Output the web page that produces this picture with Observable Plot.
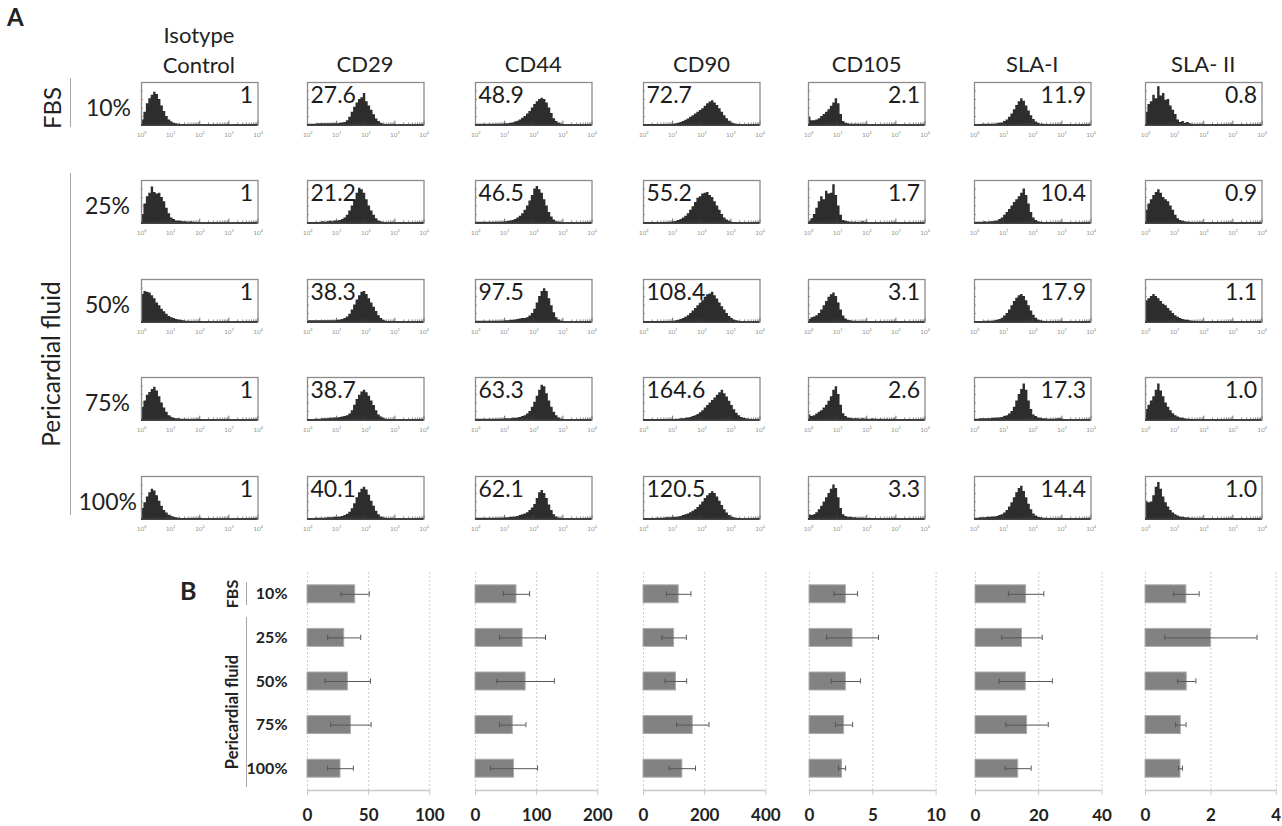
<!DOCTYPE html>
<html><head><meta charset="utf-8">
<script src="https://cdn.jsdelivr.net/npm/d3@7"></script>
<script src="https://cdn.jsdelivr.net/npm/@observablehq/plot@0.6"></script>
<style>
body{margin:0;background:#fff;}
#fig{position:relative;width:1282px;height:826px;overflow:hidden;font-family:Lato,"Open Sans",sans-serif;color:#222;background:#fff;}
.abs{position:absolute;white-space:pre;}
.vline{position:absolute;width:0;border-left:1.5px solid #a8a8a8;}
#fig svg{max-width:none !important;}
</style></head><body><div id="fig"></div>
<script>
// ---------------- DATA ----------------
const markers = ["Isotype\nControl","CD29","CD44","CD90","CD105","SLA-I","SLA- II"];
const conditions = ["10%","25%","50%","75%","100%"];
const decadeTicks = ["10\u2070","10\u00b9","10\u00b2","10\u00b3","10\u2074"];

// MFI numbers printed in each histogram (rows = conditions, cols = markers)
const mfi10  = ["1","27.6","48.9","72.7","2.1","11.9","0.8"];
const mfi25  = ["1","21.2","46.5","55.2","1.7","10.4","0.9"];
const mfi50  = ["1","38.3","97.5","108.4","3.1","17.9","1.1"];
const mfi75  = ["1","38.7","63.3","164.6","2.6","17.3","1.0"];
const mfi100 = ["1","40.1","62.1","120.5","3.3","14.4","1.0"];
const mfiLeft = [false,true,true,true,false,false,false];

// histogram counts (% of panel height), 12 bins per decade starting at 10^0
const hist10 = [
  [12,30,50,62,70,77,72,60,45,32,20,12,7,4,3,2,1,1],
  [2,2,2,2,3,3,3,3,3,3,3,3,3,4,5,6,10,18,30,42,52,60,64,74,55,45,35,24,14,8,4,2,1],
  [2,2,2,2,2,2,2,2,2,2,2,2,3,3,4,5,7,9,12,16,20,26,32,40,48,55,60,63,60,52,40,27,15,8,4,2,1],
  [1,1,1,1,1,1,1,1,1,1,1,1,2,3,4,6,8,11,14,18,22,26,30,34,38,44,50,54,57,52,46,38,30,22,15,9,5,3,2,1],
  [18,10,10,12,15,20,25,30,36,44,52,62,50,25,8,4,3,2,2,2,2,1,1,1,1],
  [1,1,1,2,2,2,2,2,2,3,4,5,8,12,18,26,36,46,55,62,56,45,33,22,13,7,4,2,2,1,1],
  [30,48,55,70,62,90,68,74,58,60,45,35,25,12,6,8,4,6,3,2]
];
const hist25 = [
  [20,45,62,70,85,72,68,70,60,50,35,22,12,8,5,5,4,3,3,2,3,2,1],
  [1,1,1,1,1,2,3,2,3,4,3,5,5,6,8,12,18,28,40,55,70,82,78,70,55,40,28,18,10,5,3,1],
  [2,2,2,2,2,2,2,2,2,2,2,2,3,4,5,6,8,12,16,22,30,40,52,65,80,86,78,70,55,40,25,14,7,3,2,1],
  [1,1,1,1,1,1,1,1,1,1,1,2,3,4,6,8,12,16,22,30,38,48,58,62,68,70,72,65,60,50,40,30,20,12,7,4,2,1],
  [5,10,20,35,50,62,55,75,68,70,90,65,40,18,6,4,3,2,2,2,1,1,3,1,1],
  [2,2,2,2,3,2,3,3,4,5,8,12,18,25,32,40,48,55,62,70,80,65,45,25,12,6,3,2,1,1,1,1],
  [30,45,55,65,72,78,70,60,55,50,40,30,18,10,6,4,3,2,2,1]
];
const hist50 = [
  [65,72,70,68,62,55,45,38,30,24,18,13,10,8,6,5,4,3,2,2,1],
  [3,3,3,3,3,3,3,3,3,3,3,3,4,5,6,8,12,18,28,40,52,62,70,72,65,55,45,35,25,15,8,4,2,1],
  [2,2,2,2,2,2,2,2,2,2,2,2,3,3,4,4,5,6,7,8,8,10,14,20,30,45,60,72,78,72,55,38,22,10,5,2,1],
  [1,1,1,1,1,1,1,1,1,1,1,1,2,3,4,6,8,11,15,20,26,32,38,44,50,58,64,66,70,62,54,45,36,28,20,13,8,5,3,2,1],
  [6,10,12,15,20,28,38,48,58,64,68,60,45,28,14,7,4,3,2,2,1,1],
  [1,1,1,1,2,2,2,2,3,4,6,9,14,20,28,38,48,56,62,65,60,50,38,26,16,9,5,3,2,1],
  [50,55,60,65,60,55,48,42,38,32,26,20,15,11,8,6,5,4,3,2,2,1]
];
const hist75 = [
  [30,45,58,65,72,77,68,55,40,28,18,10,6,4,3,3,2,2,2,1,1,1,1,2,1],
  [1,1,1,2,2,2,3,3,3,4,4,5,5,6,7,8,10,14,22,35,48,58,66,70,64,56,45,34,22,12,7,4,2,1],
  [2,2,2,2,2,2,2,2,2,2,2,2,3,3,3,4,4,5,6,8,10,14,20,30,42,56,70,82,78,62,45,30,18,10,5,2,1],
  [1,1,1,1,1,1,1,1,1,1,1,1,1,2,2,3,3,4,5,6,8,10,13,17,22,28,34,40,46,52,58,64,70,62,54,44,34,24,16,10,6,4,3,2,1],
  [12,8,10,14,18,22,28,35,44,55,70,78,60,35,15,8,5,4,3,3,3,2,3,2,2,2,3,2,2,2,2,1,2,1,1,2,1,1,1,1,1,1,1],
  [2,2,3,3,3,3,3,4,4,5,5,6,8,10,14,20,30,45,60,72,85,70,45,25,12,8,5,4,3,3,2,2,2,2,3,3,2,1],
  [25,35,45,55,70,85,68,55,40,30,22,15,10,7,5,4,3,2,2,1]
];
const hist100 = [
  [25,38,52,62,70,66,55,42,30,20,14,9,6,4,3,2,1,1,1,1,1,1,1,1,2],
  [1,1,1,2,2,2,2,2,3,3,3,4,4,5,6,8,11,16,24,36,50,62,70,75,68,56,42,30,18,10,5,3,2,1],
  [2,2,2,2,2,2,2,2,2,2,2,2,3,3,4,4,5,6,8,10,12,15,20,26,34,48,62,67,60,48,33,20,10,5,2,1],
  [1,1,1,1,1,2,2,2,2,3,3,3,4,4,5,6,8,10,12,15,18,22,27,33,40,48,55,60,64,60,52,42,32,22,14,8,5,3,2,1],
  [10,8,10,15,22,30,40,50,60,70,80,72,50,25,10,6,4,4,3,3,2,2,2,1,1,2,1],
  [2,2,3,3,3,4,4,5,5,6,8,10,14,20,28,38,50,62,72,77,65,50,35,22,12,7,4,3,2,2,1,1],
  [42,38,40,55,75,86,70,52,38,28,20,14,10,7,5,4,3,3,2,2,1]
];

// Panel B: mean MFI ratio and error (rows = conditions)
const barMarkers = ["CD29","CD44","CD90","CD105","SLA-I","SLA- II"];
const cd29Mean  = [39, 30, 33, 35.5, 27];      const cd29Err  = [11.5, 13.5, 18.5, 16.5, 10.5];
const cd44Mean  = [67, 77, 82, 61, 63];        const cd44Err  = [21.5, 37.5, 47, 21.5, 38.5];
const cd90Mean  = [115, 100, 106, 161, 127];   const cd90Err  = [40, 40, 35, 53, 43];
const cd105Mean = [2.87, 3.4, 2.87, 2.73, 2.57]; const cd105Err = [0.93, 2.05, 1.15, 0.68, 0.28];
const slaIMean  = [16, 14.7, 15.9, 16.3, 13.5]; const slaIErr  = [5.6, 6.4, 8.4, 6.7, 4.1];
const slaIIMean = [1.25, 2.0, 1.26, 1.08, 1.07]; const slaIIErr = [0.39, 1.41, 0.28, 0.16, 0.06];
const barTicks = [[0,50,100],[0,100,200],[0,200,400],[0,5,10],[0,20,40],[0,2,4]];

// ---------------- LAYOUT ----------------
const fig = document.getElementById("fig");
function addDiv(cls, text, css){ const d=document.createElement("div"); d.className=cls; if(text!=null) d.textContent=text; Object.assign(d.style, css); fig.appendChild(d); return d; }
function place(plot, left, top){
  const w = document.createElement("div");
  Object.assign(w.style,{position:"absolute", left:left+"px", top:top+"px", width:plot.getAttribute("width")+"px", height:plot.getAttribute("height")+"px"});
  w.appendChild(plot); fig.appendChild(w);
}

const colLeft = [140.7,306.7,475,643.3,808.3,974,1145];
const rowTop = [82,179.5,278.5,377,476];
const boxW = 116.5, boxH = 42.5;
const mfiRows = [mfi10,mfi25,mfi50,mfi75,mfi100];
const histRows = [hist10,hist25,hist50,hist75,hist100];
const minorTicks = [];
for (let k=0;k<4;k++) for (let m=2;m<10;m++) minorTicks.push(k+Math.log10(m));

function histPlot(vals, label, left){
  const pts = vals.map((v,i)=>({x:i/12, y:v}));
  pts.push({x:vals.length/12, y:0});
  return Plot.plot({
    width: boxW+2, height: boxH+2+18,
    marginLeft:1, marginRight:1, marginTop:1, marginBottom:19,
    x:{domain:[0,4], label:null}, y:{domain:[0,100], axis:null},
    style:{background:"transparent", overflow:"visible", maxWidth:"none", fontFamily:"Lato, 'Open Sans', sans-serif"},
    marks:[
      Plot.areaY(pts,{x:"x", y:"y", curve:"step-after", fill:"#2d2d2d"}),
      Plot.ruleX(minorTicks,{y1:0, y2:5, stroke:"#444", strokeWidth:0.6}),
      Plot.ruleX([0,1,2,3,4],{y1:0, y2:9, stroke:"#444", strokeWidth:0.8}),
      Plot.ruleY([20,40,60,80],{x1:0, x2:0.06, stroke:"#555", strokeWidth:0.8}),
      Plot.frame({stroke:"#8c8c8c", strokeWidth:1.3}),
      Plot.ruleY([0],{stroke:"#1e1e1e", strokeWidth:1.7}),
      Plot.axisX({ticks:[0,1,2,3,4], tickFormat:k=>decadeTicks[k], label:null, tickSize:0, tickPadding:7, fontSize:6.5, color:"#999"}),
      Plot.text([label],{frameAnchor: left?"top-left":"top-right", dx: left?3:-5, dy:4, lineAnchor:"top", textAnchor: left?"start":"end", fontSize:23, fill:"#1c1c1c"})
    ]
  });
}

// Panel A
addDiv("abs","A",{left:"7px", top:"5px", fontSize:"24px", fontWeight:"bold", lineHeight:"24px"});
markers.forEach((m,c)=>{
  const multi = m.includes("\n");
  addDiv("abs", m, {left:(colLeft[c]+boxW/2)+"px", top:(multi?19.5:48.5)+"px", transform:"translateX(-50%)", textAlign:"center", fontSize:"22px", lineHeight:"30px"});
});
const rowLabelRight = [131,130,130,130,137];
conditions.forEach((cnd,r)=>{
  const d = addDiv("abs", cnd, {top:(rowTop[r]+boxH/2+5-12)+"px", fontSize:"23px", lineHeight:"23px"});
  d.style.right = (1282-rowLabelRight[r])+"px";
});
addDiv("abs","FBS",{left:"52px", top:"108px", transform:"translate(-50%,-50%) rotate(-90deg)", fontSize:"24px", lineHeight:"24px"});
addDiv("abs","Pericardial fluid",{left:"51px", top:"364px", transform:"translate(-50%,-50%) rotate(-90deg)", fontSize:"24.5px", lineHeight:"24px"});
addDiv("vline",null,{left:"70px", top:"78px", height:"49px"});
addDiv("vline",null,{left:"70px", top:"173px", height:"342px"});

histRows.forEach((row,r)=>{
  row.forEach((vals,c)=>{
    place(histPlot(vals, mfiRows[r][c], mfiLeft[c]), colLeft[c]-1, rowTop[r]-1);
  });
});

// Panel B
const barMeans = [cd29Mean,cd44Mean,cd90Mean,cd105Mean,slaIMean,slaIIMean];
const barErrs = [cd29Err,cd44Err,cd90Err,cd105Err,slaIErr,slaIIErr];
const bLeft = [306.7,475,643.2,808.6,975.3,1145.3];
const bWidth = [122.3,122.3,122.4,126.6,126.5,130.8];
const bTop = 572, bH = 218;

function barPlot(j){
  const data = conditions.map((c,i)=>({cond:c, row:i, mean:barMeans[j][i], err:barErrs[j][i]}));
  const ticks = barTicks[j];
  const ml = j===0 ? 90 : 0;
  const caps = data.flatMap(d=>[{row:d.row, x:d.mean-d.err},{row:d.row, x:d.mean+d.err}]);
  return Plot.plot({
    width: bWidth[j]+ml+22, height: bH+44,
    marginLeft: ml, marginRight: 22, marginTop: 0, marginBottom: 44,
    x:{domain:[ticks[0], ticks[ticks.length-1]], label:null},
    y:{domain:[4.5,-0.5], axis:null},
    style:{background:"transparent", overflow:"visible", maxWidth:"none", fontFamily:"Lato, 'Open Sans', sans-serif", fontWeight:"bold"},
    marks:[
      Plot.ruleX(ticks,{stroke:"#cdcdcd", strokeDasharray:"2,2", strokeWidth:1}),
      Plot.ruleY([4.5],{stroke:"#c8c8c8", strokeWidth:1.5}),
      Plot.ruleX(ticks,{y1:4.5, y2:4.62, stroke:"#c8c8c8", strokeWidth:1}),
      Plot.rectX(data,{x1:0, x2:"mean", y1:d=>d.row-0.206, y2:d=>d.row+0.206, fill:"#828282", stroke:"#acacac", strokeWidth:1}),
      Plot.ruleY(data,{y:"row", x1:d=>d.mean-d.err, x2:d=>d.mean+d.err, stroke:"#555", strokeWidth:1}),
      Plot.ruleX(caps,{x:"x", y1:d=>d.row-0.06, y2:d=>d.row+0.06, stroke:"#555", strokeWidth:1}),
      Plot.axisX({ticks, tickFormat:d=>String(d), label:null, tickSize:0, tickPadding:18, fontSize:17, color:"#222"}),
      j===0 ? Plot.text(data,{x:0, y:"row", text:"cond", textAnchor:"end", dx:-20, fontSize:16, fill:"#222"}) : null
    ]
  });
}
addDiv("abs","B",{left:"180px", top:"578px", fontSize:"25px", fontWeight:"bold", lineHeight:"25px"});
addDiv("abs","FBS",{left:"232px", top:"594px", transform:"translate(-50%,-50%) rotate(-90deg)", fontSize:"16px", fontWeight:"bold", lineHeight:"16px"});
addDiv("abs","Pericardial fluid",{left:"232px", top:"712px", transform:"translate(-50%,-50%) rotate(-90deg)", fontSize:"16.5px", fontWeight:"bold", lineHeight:"16px"});
addDiv("vline",null,{left:"246px", top:"582px", height:"23px"});
addDiv("vline",null,{left:"246px", top:"617px", height:"170px"});

barMarkers.forEach((m,j)=>{
  const ml = j===0 ? 90 : 0;
  place(barPlot(j), bLeft[j]-ml, bTop);
});
</script></body></html>
